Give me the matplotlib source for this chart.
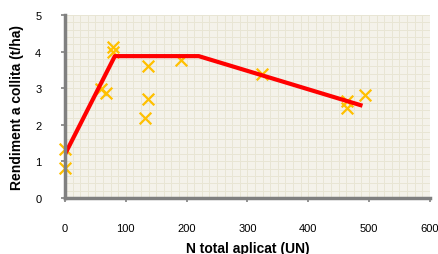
import matplotlib
matplotlib.use("Agg")
import matplotlib.pyplot as plt
from matplotlib.ticker import MultipleLocator

# observed yields
n_applied = [0, 0, 60, 67, 79, 79, 136, 136, 131, 191, 324, 464, 464, 493]
yield_obs = [1.35, 0.82, 2.97, 2.88, 4.12, 4.0, 3.62, 2.72, 2.19, 3.77, 3.39, 2.65, 2.46, 2.83]

# fitted response line
fit_n = [2, 82, 220, 486]
fit_yield = [1.26, 3.88, 3.88, 2.54]

x_ticks = [0, 100, 200, 300, 400, 500, 600]
y_ticks = [0, 1, 2, 3, 4, 5]

plt.rcParams["font.family"] = ["Liberation Sans", "DejaVu Sans"]

fig = plt.figure(figsize=(4.39, 2.55), dpi=100)
ax = fig.add_axes([0.148, 0.2196, 0.831, 0.717])
ax.set_facecolor("#f4f2ea")

ax.xaxis.set_minor_locator(MultipleLocator(12.5))
ax.yaxis.set_minor_locator(MultipleLocator(0.2))
ax.grid(which="both", color="#e8e5d4", linewidth=0.7)
ax.set_axisbelow(True)
ax.tick_params(which="minor", length=0)

ax.scatter(n_applied, yield_obs, marker="x", s=70, color="#ffc000", linewidths=1.6,
           zorder=3, clip_on=False)
ax.plot(fit_n, fit_yield, color="#ff0000", linewidth=3, zorder=4)

ax.set_xlim(0, 600)
ax.set_ylim(0, 5)
ax.set_xticks(x_ticks)
ax.set_yticks(y_ticks)
ax.tick_params(axis="x", which="major", length=3, width=1.2, color="#808080", pad=15, labelsize=8)
ax.tick_params(axis="y", which="major", length=3, width=1.2, color="#808080", pad=14, labelsize=8)

for side in ["top", "right"]:
    ax.spines[side].set_visible(False)
for side in ["left", "bottom"]:
    ax.spines[side].set_color("#808080")
    ax.spines[side].set_linewidth(2.5)
    ax.spines[side].set_zorder(5)

ax.set_xlabel("N total aplicat (UN)", fontsize=10, fontweight="bold", labelpad=6)
ax.set_ylabel("Rendiment a collita (t/ha)", fontsize=10, fontweight="bold", labelpad=8)

fig.savefig("out.png", dpi=100)
